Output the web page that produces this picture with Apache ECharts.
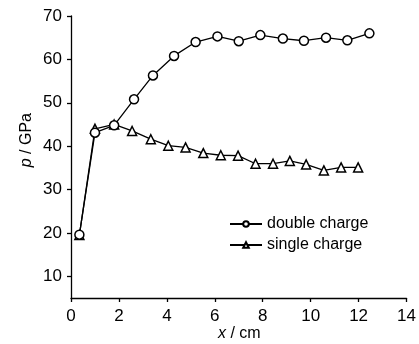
<!DOCTYPE html>
<html>
<head>
<meta charset="utf-8">
<script src="https://cdn.jsdelivr.net/npm/echarts@6/dist/echarts.min.js"></script>
<style>html,body{margin:0;padding:0;background:#fff}#c{width:419px;height:344px}</style>
</head>
<body>
<div id="c"></div>
<script>
var doubleX = [0.35, 1.0, 1.8, 2.63, 3.42, 4.3, 5.2, 6.11, 7.0, 7.9, 8.84, 9.72, 10.64, 11.53, 12.45];
var doubleY = [19.6, 43.1, 44.8, 50.8, 56.3, 60.8, 64.0, 65.3, 64.2, 65.6, 64.8, 64.3, 65.0, 64.4, 66.0];
var singleX = [0.35, 1.0, 1.8, 2.55, 3.33, 4.06, 4.78, 5.52, 6.25, 6.97, 7.7, 8.43, 9.13, 9.81, 10.55, 11.27, 11.98];
var singleY = [19.5, 44.0, 45.0, 43.5, 41.6, 40.1, 39.7, 38.4, 37.9, 37.8, 35.95, 35.95, 36.6, 35.8, 34.4, 35.1, 35.1];
var yTicks = [10, 20, 30, 40, 50, 60, 70];
var seriesNames = ['double charge', 'single charge'];

var FONT = '"Liberation Sans Narrow", "Arial Narrow", "Liberation Sans", Arial, sans-serif';
function pairs(xs, ys) { return xs.map(function (x, i) { return [x, ys[i]]; }); }

var chart = echarts.init(document.getElementById('c'), null, {renderer: 'canvas'});
chart.setOption({
  animation: false,
  backgroundColor: '#fff',
  grid: {left: 71, right: 11, top: 16, bottom: 46},
  xAxis: {
    type: 'value', min: 0, max: 14, interval: 2,
    axisLine: {lineStyle: {color: '#000', width: 1.3}},
    axisTick: {length: 4, lineStyle: {color: '#000', width: 1.3}},
    axisLabel: {color: '#000', fontFamily: FONT, fontSize: 17, margin: 10},
    splitLine: {show: false}
  },
  yAxis: {
    type: 'value', min: 5, max: 70,
    axisLine: {show: true, lineStyle: {color: '#000', width: 1.3}},
    axisTick: {show: true, length: 4, customValues: yTicks, lineStyle: {color: '#000', width: 1.3}},
    axisLabel: {color: '#000', fontFamily: FONT, fontSize: 17, margin: 9, customValues: yTicks},
    splitLine: {show: false}
  },
  legend: {
    orient: 'vertical', left: 224, top: 211, itemGap: 5,
    itemWidth: 32, itemHeight: 7,
    textStyle: {color: '#000', fontFamily: FONT, fontSize: 16, padding: [0, 0, 0, 0]},
    data: seriesNames
  },
  graphic: [
    {type: 'text', left: 19, top: 113, rotation: Math.PI / 2,
     style: {text: '{i|p} / GPa', fill: '#000', font: '16px ' + FONT,
             rich: {i: {fontStyle: 'italic', fontFamily: FONT, fontSize: 16, fill: '#000'}}}},
    {type: 'text', left: 218, top: 326,
     style: {text: '{i|x} / cm', fill: '#000', font: '16px ' + FONT,
             rich: {i: {fontStyle: 'italic', fontFamily: FONT, fontSize: 16, fill: '#000'}}}}
  ],
  series: [
    {
      name: seriesNames[0], type: 'line', data: pairs(doubleX, doubleY),
      symbol: 'circle', symbolSize: 9, showAllSymbol: true,
      lineStyle: {color: '#000', width: 1.3},
      itemStyle: {color: '#fff', borderColor: '#000', borderWidth: 1.5}, z: 3
    },
    {
      name: seriesNames[1], type: 'line', data: pairs(singleX, singleY),
      symbol: 'triangle', symbolSize: 9, showAllSymbol: true,
      lineStyle: {color: '#000', width: 1.3},
      itemStyle: {color: '#fff', borderColor: '#000', borderWidth: 1.5}, z: 2
    }
  ]
});
</script>
</body>
</html>
